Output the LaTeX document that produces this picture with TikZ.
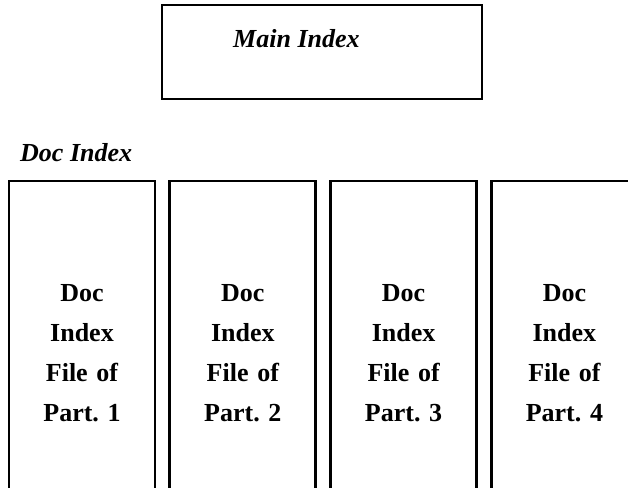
\documentclass[tikz,border=0pt]{standalone}
\usepackage{fontspec}
\setmainfont{Liberation Serif}
\usetikzlibrary{positioning}
\tikzset{mainbox/.style={rectangle, draw, line width=2.8pt, minimum width=320pt, minimum height=94pt, inner sep=0pt}}
\tikzset{heading/.style={font=\fontsize{26}{30}\selectfont\bfseries\itshape, inner sep=0pt}}
\tikzset{partbox/.style={rectangle, draw, line width=2.8pt, minimum width=146pt, minimum height=345pt,
 text width=140pt, align=center, font=\fontsize{26}{40}\selectfont\bfseries\frenchspacing, inner sep=0pt}}

\begin{document}
\begin{tikzpicture}[x=1pt, y=1pt, node distance=12pt]
        \useasboundingbox (0,0) rectangle (628,487);
        \clip (0,0) rectangle (628,487);
        \node[mainbox] (main) at (322,435) {};
        \node[heading, anchor=base west] (maintxt) at (233,439) {Main Index};
        \node[heading, anchor=base west] (doctxt) at (20,325) {Doc Index};

        \node[partbox] (part1) at (82,133.5) {Doc\\Index\\File of\\Part. 1};
        \node[partbox, right=of part1] (part2) {Doc\\Index\\File of\\Part. 2};
        \node[partbox, right=of part2] (part3) {Doc\\Index\\File of\\Part. 3};
        \node[partbox, right=of part3] (part4) {Doc\\Index\\File of\\Part. 4};
\end{tikzpicture}
\end{document}
